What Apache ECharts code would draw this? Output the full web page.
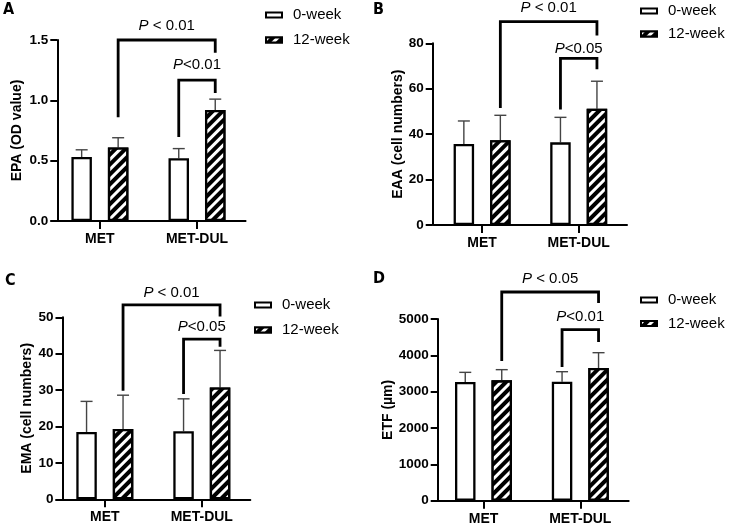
<!DOCTYPE html>
<html><head><meta charset="utf-8">
<script src="https://cdn.jsdelivr.net/npm/echarts@6/dist/echarts.min.js"></script>
<style>html,body{margin:0;padding:0;background:#fff}#c{width:732px;height:524px}</style>
</head><body><div id="c"></div>
<script>
// ---------------- data ----------------
const categories = ['MET', 'MET-DUL'];
const seriesNames = ['0-week', '12-week'];
const panelLetters = ['A', 'B', 'C', 'D'];
const yTitles = ['EPA (OD value)', 'EAA (cell numbers)', 'EMA (cell numbers)', 'ETF (µm)'];
const yMax = [1.5, 80, 50, 5000];
const yInterval = [0.5, 20, 10, 1000];
const yDecimals = [1, 0, 0, 0];

// Panel A – EPA
const epaWeek0 = [0.53, 0.52];
const epaWeek0Sd = [0.06, 0.08];
const epaWeek12 = [0.61, 0.92];
const epaWeek12Sd = [0.08, 0.09];
// Panel B – EAA
const eaaWeek0 = [35.7, 36.4];
const eaaWeek0Sd = [10.1, 11.0];
const eaaWeek12 = [37.3, 51.2];
const eaaWeek12Sd = [11.0, 12.1];
// Panel C – EMA
const emaWeek0 = [18.5, 18.7];
const emaWeek0Sd = [8.4, 8.9];
const emaWeek12 = [19.3, 30.7];
const emaWeek12Sd = [9.3, 10.2];
// Panel D – ETF
const etfWeek0 = [3266, 3275];
const etfWeek0Sd = [266, 275];
const etfWeek12 = [3312, 3651];
const etfWeek12Sd = [294, 422];

// significance brackets: [leftCat, leftSeries, leftEnd, top, rightCat, rightSeries, rightEnd, labelLevel]
const epaBrackets = [[0, 1, 0.86, 1.5, 1, 1, 1.395, 1.616], [1, 0, 0.696, 1.168, 1, 1, 1.06, 1.293]];
const epaBracketLabels = ['P < 0.01', 'P<0.01'];
const eaaBrackets = [[0, 1, 51.5, 89.5, 1, 1, 83.4, 95.4], [1, 0, 50.9, 73.4, 1, 1, 68.6, 77.4]];
const eaaBracketLabels = ['P < 0.01', 'P<0.05'];
const emaBrackets = [[0, 1, 29.8, 53.4, 1, 1, 50.2, 56.8], [1, 0, 28.9, 44.0, 1, 1, 41.9, 47.3]];
const emaBracketLabels = ['P < 0.01', 'P<0.05'];
const etfBrackets = [[0, 1, 3844, 5743, 1, 1, 5440, 6093], [1, 0, 3679, 4706, 1, 1, 4367, 5047]];
const etfBracketLabels = ['P < 0.05', 'P<0.01'];

// ---------------- styles / layout ----------------
const FONT = '"Liberation Sans", Arial, sans-serif';
const LETTER_FONT = '"Liberation Sans Narrow", "DejaVu Sans Condensed", "Liberation Sans", sans-serif';
const BAR_W = 20.5;
const BAR_GAP = 0.78;
const OFF = BAR_W * (1 + BAR_GAP) / 2;
const ERR_COLOR = '#444';

const panels = [
  {w0: epaWeek0, s0: epaWeek0Sd, w12: epaWeek12, s12: epaWeek12Sd, br: epaBrackets, bl: epaBracketLabels},
  {w0: eaaWeek0, s0: eaaWeek0Sd, w12: eaaWeek12, s12: eaaWeek12Sd, br: eaaBrackets, bl: eaaBracketLabels},
  {w0: emaWeek0, s0: emaWeek0Sd, w12: emaWeek12, s12: emaWeek12Sd, br: emaBrackets, bl: emaBracketLabels},
  {w0: etfWeek0, s0: etfWeek0Sd, w12: etfWeek12, s12: etfWeek12Sd, br: etfBrackets, bl: etfBracketLabels}
];

const layout = [
  {left: 51.35, top: 40, width: 194.2, height: 181, yOffset: -5.95, nameGap: 33, legLeft: 265, legTop: 7, legGap: 9, lx: 3, ly: 2},
  {left: 433.8, top: 43.3, width: 193.2, height: 181.7, yOffset: 1.1, nameGap: 21, legLeft: 640, legTop: 3, legGap: 7, lx: 373, ly: 2},
  {left: 56.3, top: 317.3, width: 194, height: 182, yOffset: -6.2, nameGap: 28.5, legLeft: 254, legTop: 297, legGap: 9, lx: 5, ly: 273},
  {left: 435.1, top: 319, width: 193.6, height: 181.7, yOffset: -2.6, nameGap: 38.5, legLeft: 640, legTop: 292, legGap: 7.4, lx: 373, ly: 271}
];

const hatch = {
  symbol: 'rect', symbolSize: 1, color: '#fff',
  dashArrayX: [1, 0], dashArrayY: [3, 3.5], rotation: -Math.PI / 4
};

function errorRender(params, api) {
  const cat = api.value(0), mean = api.value(1), sd = api.value(2), s = api.value(3);
  const base = api.coord([cat, mean]);
  const top = api.coord([cat, mean + sd]);
  const x = base[0] + (s === 0 ? -1 : 1) * OFF;
  const st = {stroke: ERR_COLOR, lineWidth: 1.4};
  return {type: 'group', children: [
    {type: 'line', shape: {x1: x, y1: base[1], x2: x, y2: top[1]}, style: st},
    {type: 'line', shape: {x1: x - 6, y1: top[1], x2: x + 6, y2: top[1]}, style: st}
  ]};
}

function bracketRender(labels) {
  return function (params, api) {
    const lc = api.value(0), ls = api.value(1), le = api.value(2), tp = api.value(3);
    const rc = api.value(4), rs = api.value(5), re = api.value(6), lv = api.value(7);
    const a = api.coord([lc, le]);
    const b = api.coord([rc, re]);
    const t = api.coord([lc, tp]);
    const tl = api.coord([lc, lv]);
    const xl = a[0] + (ls === 0 ? -1 : 1) * OFF;
    const xr = b[0] + (rs === 0 ? -1 : 1) * OFF;
    const lab = labels[params.dataIndex];
    return {type: 'group', children: [
      {type: 'polyline', shape: {points: [[xl, a[1]], [xl, t[1]], [xr, t[1]], [xr, b[1]]]},
       style: {stroke: '#000', lineWidth: 2.8, fill: null, lineJoin: 'miter'}},
      {type: 'text', x: (xl + xr) / 2, y: tl[1],
       style: {text: '{i|' + lab.charAt(0) + '}{n|' + lab.slice(1) + '}',
         rich: {i: {fontStyle: 'italic', fontSize: 15, fontFamily: FONT, fill: '#000'},
                n: {fontSize: 15, fontFamily: FONT, fill: '#000'}},
         fontSize: 15, fontFamily: FONT, align: 'center', verticalAlign: 'middle', fill: '#000'}}
    ]};
  };
}

const grid = [], xAxis = [], yAxis = [], series = [], legend = [], graphic = [];
panels.forEach((p, i) => {
  const L = layout[i];
  grid.push({left: L.left, top: L.top, width: L.width, height: L.height, containLabel: false, outerBoundsMode: 'none'});
  xAxis.push({
    type: 'category', gridIndex: i, data: categories, boundaryGap: true,
    axisLine: {show: true, lineStyle: {color: '#000', width: 2}},
    axisTick: {show: true, alignWithLabel: true, length: 8, lineStyle: {color: '#000', width: 2}},
    axisLabel: {color: '#000', fontWeight: 'bold', fontSize: 14, fontFamily: FONT, margin: 11},
    splitLine: {show: false}
  });
  const dec = yDecimals[i];
  yAxis.push({
    type: 'value', gridIndex: i, min: 0, max: yMax[i], interval: yInterval[i], offset: L.yOffset,
    name: yTitles[i], nameLocation: 'middle', nameGap: L.nameGap,
    nameTextStyle: {color: '#000', fontWeight: 'bold', fontSize: 14, fontFamily: FONT},
    axisLine: {show: true, lineStyle: {color: '#000', width: 2}},
    axisTick: {show: true, inside: false, length: 7, lineStyle: {color: '#000', width: 2}},
    axisLabel: {color: '#000', fontWeight: 'bold', fontSize: 13.5, fontFamily: FONT, margin: 9,
      formatter: v => v.toFixed(dec)},
    splitLine: {show: false}
  });
  series.push({
    type: 'bar', name: seriesNames[0], xAxisIndex: i, yAxisIndex: i, data: p.w0,
    barWidth: BAR_W, barGap: (BAR_GAP * 100) + '%', z: 2,
    itemStyle: {color: '#fff', borderColor: '#000', borderWidth: 2.3}
  });
  series.push({
    type: 'bar', name: seriesNames[1], xAxisIndex: i, yAxisIndex: i, data: p.w12,
    barWidth: BAR_W, barGap: (BAR_GAP * 100) + '%', z: 2,
    itemStyle: {color: '#000', borderColor: '#000', borderWidth: 2.3, decal: hatch}
  });
  const errData = [];
  p.w0.forEach((v, k) => errData.push([k, v, p.s0[k], 0]));
  p.w12.forEach((v, k) => errData.push([k, v, p.s12[k], 1]));
  series.push({
    type: 'custom', xAxisIndex: i, yAxisIndex: i, data: errData, clip: false, z: 1,
    encode: {x: 0, y: 1}, renderItem: errorRender, silent: true
  });
  series.push({
    type: 'custom', xAxisIndex: i, yAxisIndex: i, data: p.br, clip: false, z: 3,
    encode: {x: 0, y: 3}, renderItem: bracketRender(p.bl), silent: true
  });
  legend.push({
    data: seriesNames, orient: 'vertical', left: L.legLeft, top: L.legTop, padding: 0,
    itemWidth: 16, itemHeight: 5, itemGap: L.legGap, icon: 'rect', selectedMode: false,
    textStyle: {color: '#000', fontSize: 15, fontFamily: FONT, lineHeight: 16, padding: [0, 0, 0, 6]}
  });
  graphic.push({
    type: 'text', left: L.lx, top: L.ly,
    style: {text: panelLetters[i], fontSize: 16, fontWeight: 'bold', fontFamily: LETTER_FONT, fill: '#000'}
  });
});

const chart = echarts.init(document.getElementById('c'), null, {renderer: 'canvas'});
chart.setOption({
  animation: false, backgroundColor: '#fff',
  grid, xAxis, yAxis, series, legend, graphic
});
</script>
</body></html>
